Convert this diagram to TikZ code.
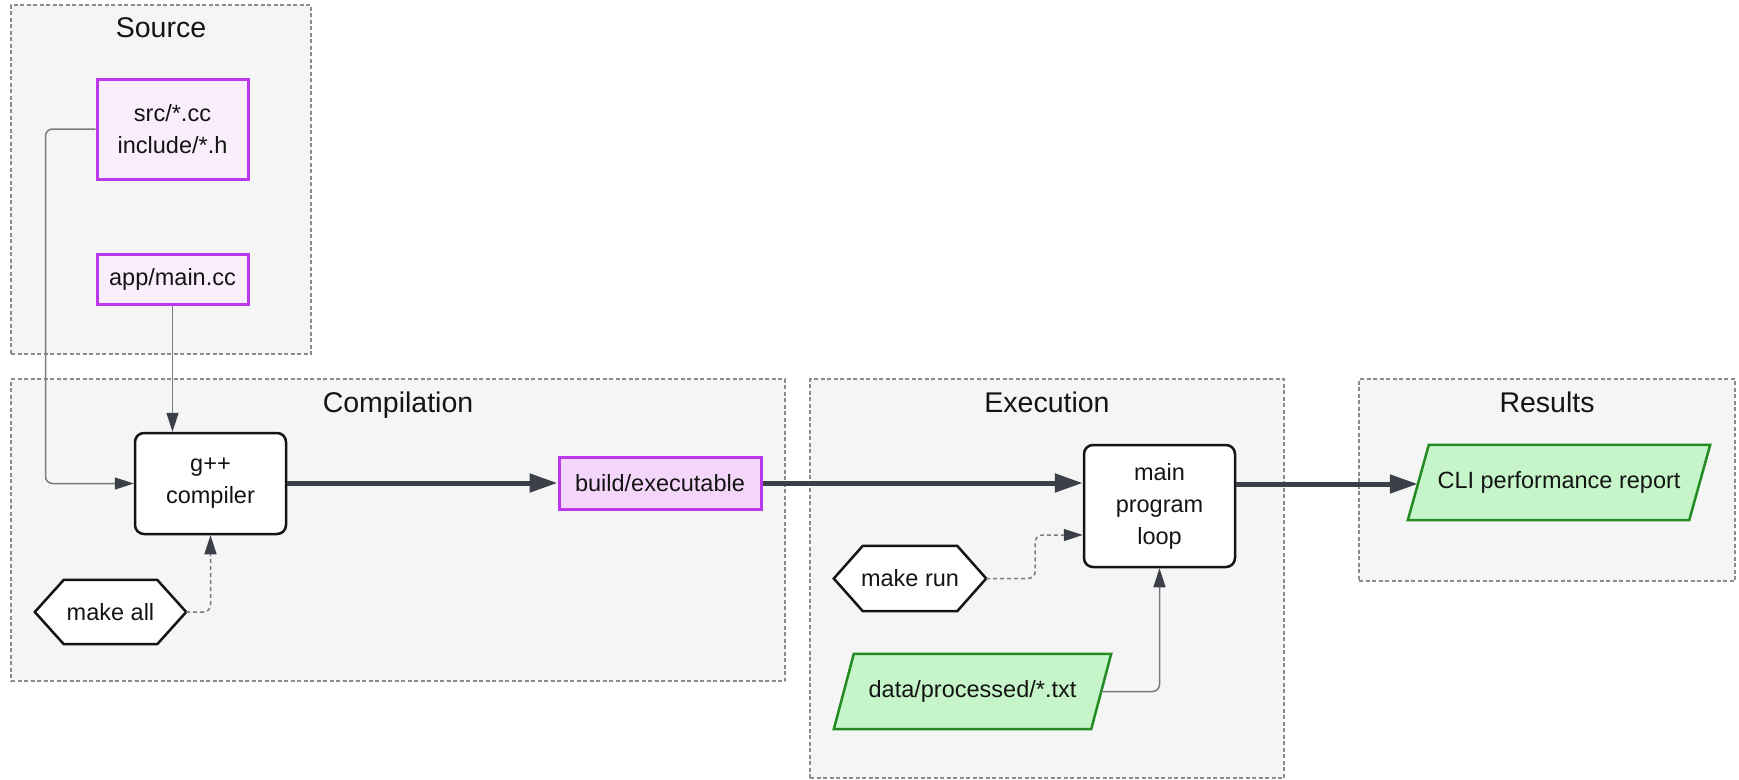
\documentclass[tikz,border=0pt]{standalone}
\usepackage{fontspec}
\setmainfont{Liberation Sans}
\usetikzlibrary{arrows.meta,calc}
\definecolor{purp}{RGB}{188,56,236}
\definecolor{purpfillA}{RGB}{250,238,252}
\definecolor{purpfillB}{RGB}{243,214,250}
\definecolor{grnfill}{RGB}{197,245,200}
\definecolor{grnline}{RGB}{34,140,34}
\definecolor{clfill}{RGB}{245,245,245}
\definecolor{clline}{RGB}{140,140,140}
\definecolor{dark}{RGB}{59,64,72}
\definecolor{thin}{RGB}{122,122,130}
\definecolor{ink}{RGB}{20,20,20}
\pgfdeclarelayer{bg}
\pgfdeclarelayer{shp}
\pgfsetlayers{bg,shp,main}
\tikzset{
  cluster/.style={draw=clline, fill=clfill, line width=1.2pt, dash pattern=on 4pt off 2.5pt, inner sep=0pt},
  cltitle/.style={anchor=base, font=\fontsize{28.5pt}{34pt}\selectfont, text=ink},
  nodetext/.style={inner sep=0pt, align=center, font=\fontsize{23.5pt}{32pt}\selectfont, text=ink},
  filebox/.style={nodetext, draw=purp, line width=3pt, fill=purpfillA},
  buildbox/.style={nodetext, draw=purp, line width=3pt, fill=purpfillB},
  procbox/.style={nodetext, draw=ink, line width=2.5pt, fill=white, rounded corners=9pt},
  plainnode/.style={nodetext},
  hexline/.style={draw=ink, line width=2.5pt, fill=white, line join=miter},
  paraline/.style={draw=grnline, line width=2.5pt, fill=grnfill, line join=miter},
  thinconn/.style={draw=thin, line width=1.5pt, rounded corners=7pt, -{Triangle[length=19pt,width=12pt,color=dark]}},
  dashconn/.style={thinconn, dash pattern=on 4pt off 3pt},
  thickconn/.style={draw=dark, line width=5pt, -{Triangle[length=28pt,width=18pt]}},
}
\begin{document}
\begin{tikzpicture}[x=1pt,y=-1pt]
\useasboundingbox (0,0) rectangle (1739,779);
\begin{pgfonlayer}{bg}
  \fill[white] (0,0) rectangle (1739,779);
  \node[cluster, minimum width=300pt, minimum height=349pt] (clsrc) at (161,179.5) {};
  \node[cluster, minimum width=774pt, minimum height=302pt] (clcomp) at (398,530) {};
  \node[cluster, minimum width=474pt, minimum height=399pt] (clexec) at (1047,578.5) {};
  \node[cluster, minimum width=376pt, minimum height=202pt] (clres) at (1547,480) {};
\end{pgfonlayer}
\node[cltitle] (tsrc) at ($(clsrc.north)+(0,33)$) {Source};
\node[cltitle] (tcomp) at ($(clcomp.north)+(0,34)$) {Compilation};
\node[cltitle] (texec) at ($(clexec.north)+(0,34)$) {Execution};
\node[cltitle] (tres) at ($(clres.north)+(0,34)$) {Results};

\node[filebox, minimum width=151pt, minimum height=100pt] (src) at (172.5,129) {src/*.cc\\include/*.h};
\node[filebox, minimum width=151pt, minimum height=50pt] (app) at (172.5,279) {app/main.cc};
\node[procbox, minimum width=151pt, minimum height=101pt] (gpp) at (210.5,483.5) {g++\\compiler};
\node[buildbox, minimum width=202pt, minimum height=52pt] (build) at (660,483) {build/executable};
\node[procbox, minimum width=151pt, minimum height=122pt] (mainloop) at (1159.5,506) {main\\program\\loop};
\node[plainnode, minimum width=151pt, minimum height=64pt] (makeall) at (110.5,612) {make all};
\node[plainnode, minimum width=152pt, minimum height=65pt] (makerun) at (910,578.5) {make run};
\node[plainnode, minimum width=277pt, minimum height=75pt] (data) at (972.5,691.5) {data/processed/*.txt};
\node[plainnode, minimum width=302pt, minimum height=75pt] (cli) at (1559,482.5) {CLI performance report};

\begin{pgfonlayer}{shp}
  \path[hexline] (makeall.west) -- ($(makeall.north west)+(29,0)$) -- ($(makeall.north east)+(-29,0)$) -- (makeall.east) -- ($(makeall.south east)+(-29,0)$) -- ($(makeall.south west)+(29,0)$) -- cycle;
  \path[hexline] (makerun.west) -- ($(makerun.north west)+(29,0)$) -- ($(makerun.north east)+(-29,0)$) -- (makerun.east) -- ($(makerun.south east)+(-29,0)$) -- ($(makerun.south west)+(29,0)$) -- cycle;
  \path[paraline] (data.south west) -- ($(data.north west)+(20,0)$) -- (data.north east) -- ($(data.south east)+(-20,0)$) -- cycle;
  \path[paraline] (cli.south west) -- ($(cli.north west)+(21,0)$) -- (cli.north east) -- ($(cli.south east)+(-21,0)$) -- cycle;
\end{pgfonlayer}

\coordinate (dataout) at ($(data.east)+(-10,0)$);
\coordinate (cliin) at ($(cli.west)+(10,0)$);
\coordinate (mainin) at ($(mainloop.west)+(0,29)$);
\coordinate (mainout) at ($(mainloop.east)+(0,-22)$);

\draw[thinconn] (src.west) -- ++(-50,0) |- (gpp.west);
\draw[thinconn] (app.south) -- (app.south |- gpp.north);
\draw[dashconn] (makeall.east) -| (gpp.south);
\draw[thickconn] (gpp.east |- build.west) -- (build.west);
\draw[thickconn] (build.east) -- (build.east -| mainloop.west);
\draw[dashconn] (makerun.east) -- ++(49,0) |- (mainin);
\draw[thinconn] (dataout) -| (mainloop.south);
\draw[thickconn] (mainout) -- (mainout -| cliin);
\end{tikzpicture}
\end{document}
